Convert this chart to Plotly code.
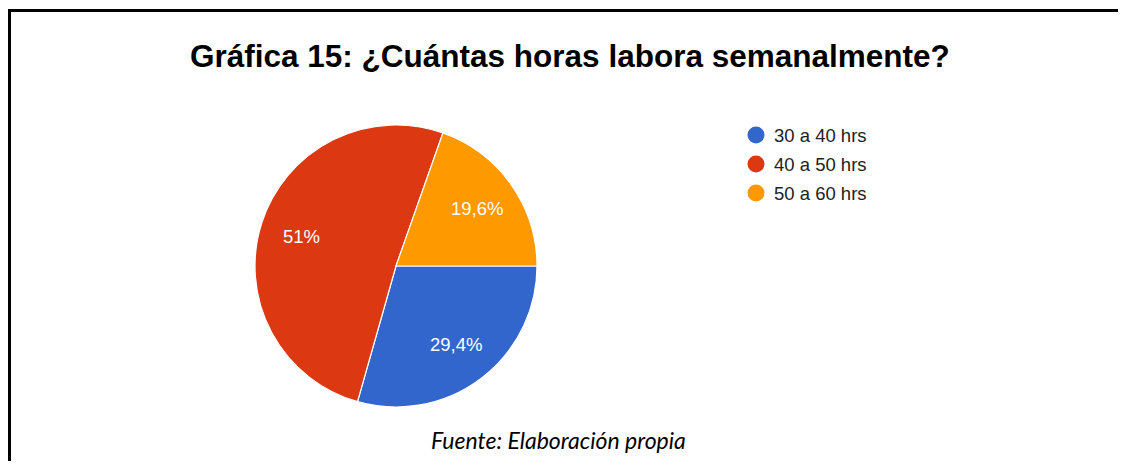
import math
import plotly.graph_objects as go

categories = ["30 a 40 hrs", "40 a 50 hrs", "50 a 60 hrs"]
values = [29.4, 51.0, 19.6]
slice_labels = ["29,4%", "51%", "19,6%"]
colors = ["#3366CC", "#DC3912", "#FF9900"]

title_text = "Gráfica 15: ¿Cuántas horas labora semanalmente?"
source_text = "Fuente: Elaboración propia"

# The page body has an 8px margin; the figure fills the rest of the 1126x469 window.
OFF = 8
W, H = 1126 - 2 * OFF, 469 - 2 * OFF


def fx(X):
    return (X - OFF) / W


def fy(Y):
    return 1 - (Y - OFF) / H


# pie geometry (window pixels)
CX, CY, R = 396, 266, 141
ROT = 90  # first slice starts at 3 o'clock

fig = go.Figure()
fig.add_trace(go.Pie(
    labels=categories,
    values=values,
    textinfo="none",
    marker=dict(colors=colors, line=dict(color="white", width=1.2)),
    sort=False,
    direction="clockwise",
    rotation=ROT,
    showlegend=False,
    hoverinfo="label+percent",
    domain=dict(x=[fx(CX - R), fx(CX + R)], y=[fy(CY + R), fy(CY - R)]),
))

shapes = []
annotations = []

# slice labels at the mid-angle of each slice, 0.7 of the radius
total = sum(values)
start = ROT
for v, lab in zip(values, slice_labels):
    sweep = v / total * 360
    mid = math.radians(start + sweep / 2)
    start += sweep
    lx = CX + 0.7 * R * math.sin(mid)
    ly = CY - 0.7 * R * math.cos(mid)
    annotations.append(dict(text=lab, xref="paper", yref="paper",
                            x=fx(lx), y=fy(ly), xanchor="center", yanchor="middle",
                            showarrow=False,
                            font=dict(family="Arial, Liberation Sans", size=18.5, color="white")))

# frame (left and top edges; right and bottom lie outside the picture)
shapes.append(dict(type="line", xref="paper", yref="paper",
                   x0=fx(9.5), x1=fx(9.5), y0=0, y1=fy(9),
                   line=dict(color="black", width=3)))
shapes.append(dict(type="line", xref="paper", yref="paper",
                   x0=fx(8), x1=1, y0=fy(10.5), y1=fy(10.5),
                   line=dict(color="black", width=3)))

# title
annotations.append(dict(text="<b>" + title_text + "</b>", xref="paper", yref="paper",
                        x=fx(570), y=fy(56), xanchor="center", yanchor="middle",
                        showarrow=False,
                        font=dict(family="Arial, Liberation Sans", size=31.5, color="black")))

# legend (circles + labels)
row_y = [135, 164, 193]
for i, cat in enumerate(categories):
    cy = row_y[i]
    r = 8.5
    shapes.append(dict(type="circle", xref="paper", yref="paper",
                       x0=fx(756 - r), x1=fx(756 + r),
                       y0=fy(cy + r), y1=fy(cy - r),
                       fillcolor=colors[i], line=dict(width=0)))
    annotations.append(dict(text=cat, xref="paper", yref="paper",
                            x=fx(772), y=fy(cy), xanchor="left", yanchor="middle",
                            showarrow=False,
                            font=dict(family="Arial, Liberation Sans", size=18.5, color="#222222")))

# source
annotations.append(dict(text="<i>" + source_text + "</i>", xref="paper", yref="paper",
                        x=fx(558), y=fy(440), xanchor="center", yanchor="middle",
                        showarrow=False,
                        font=dict(family="Lato", size=23, color="black")))

fig.update_layout(
    width=W, height=H,
    margin=dict(l=0, r=0, t=0, b=0),
    paper_bgcolor="white", plot_bgcolor="white",
    shapes=shapes, annotations=annotations,
)

fig.write_html("out.html")
